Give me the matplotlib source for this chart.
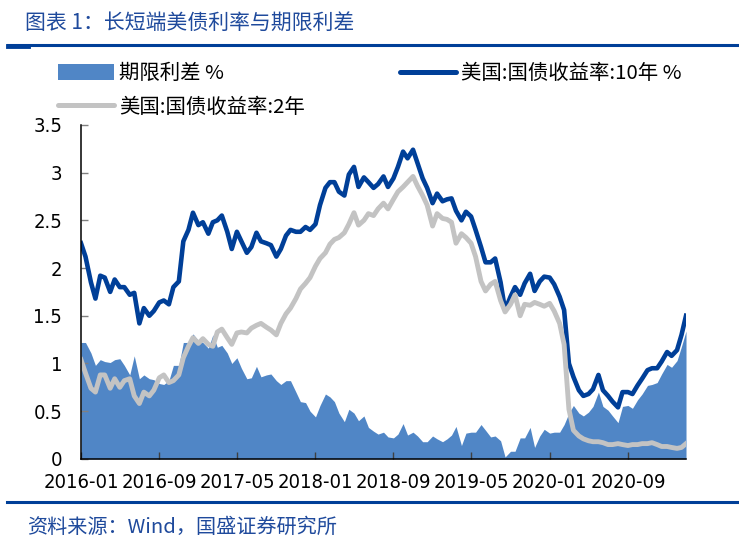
import matplotlib
matplotlib.use('Agg')
import matplotlib.pyplot as plt
import numpy as np
import pandas as pd
from matplotlib import font_manager
from matplotlib.font_manager import FontProperties
from matplotlib.lines import Line2D
from matplotlib.patches import Patch

# semi-monthly readings, 2016-01 .. 2021-03
dates = pd.date_range('2016-01-01', periods=125, freq='SMS')

y10 = [2.26, 2.12, 1.85, 1.68, 1.92, 1.90, 1.75, 1.88, 1.80, 1.80,
       1.72, 1.74, 1.42, 1.58, 1.50, 1.55, 1.64, 1.66, 1.62, 1.80,
       1.86, 2.28, 2.40, 2.58, 2.45, 2.48, 2.36, 2.48, 2.50, 2.55,
       2.38, 2.20, 2.38, 2.28, 2.16, 2.22, 2.37, 2.28, 2.26, 2.24,
       2.12, 2.20, 2.34, 2.40, 2.38, 2.38, 2.43, 2.40, 2.46, 2.66,
       2.84, 2.90, 2.90, 2.80, 2.76, 2.98, 3.06, 2.85, 2.95, 2.90,
       2.84, 2.88, 2.96, 2.85, 2.94, 3.06, 3.22, 3.15, 3.24, 3.10,
       2.94, 2.84, 2.68, 2.78, 2.70, 2.72, 2.73, 2.60, 2.50, 2.59,
       2.54, 2.40, 2.22, 2.06, 2.06, 2.10, 1.85, 1.56, 1.70, 1.80,
       1.72, 1.84, 1.94, 1.76, 1.86, 1.91, 1.90, 1.83, 1.70, 1.56,
       1.00, 0.86, 0.72, 0.66, 0.68, 0.73, 0.88, 0.72, 0.66, 0.60,
       0.54, 0.70, 0.70, 0.68, 0.77, 0.84, 0.93, 0.95, 0.95, 1.02,
       1.12, 1.08, 1.14, 1.30, 1.50]

y2 = [1.04, 0.90, 0.74, 0.70, 0.88, 0.88, 0.74, 0.84, 0.75, 0.82,
      0.84, 0.66, 0.58, 0.70, 0.66, 0.72, 0.85, 0.88, 0.80, 0.82,
      0.88, 1.06, 1.18, 1.27, 1.21, 1.26, 1.20, 1.18, 1.33, 1.36,
      1.27, 1.20, 1.32, 1.33, 1.32, 1.37, 1.40, 1.42, 1.38, 1.35,
      1.30, 1.42, 1.52, 1.58, 1.68, 1.78, 1.84, 1.90, 2.02, 2.10,
      2.16, 2.25, 2.30, 2.32, 2.37, 2.46, 2.58, 2.45, 2.50, 2.57,
      2.55, 2.62, 2.68, 2.62, 2.72, 2.80, 2.85, 2.90, 2.96, 2.86,
      2.76, 2.66, 2.44, 2.57, 2.52, 2.51, 2.48, 2.26, 2.36, 2.32,
      2.26, 2.12, 1.86, 1.76, 1.83, 1.86, 1.66, 1.54, 1.62, 1.72,
      1.50, 1.62, 1.61, 1.64, 1.62, 1.60, 1.63, 1.55, 1.42, 1.20,
      0.52, 0.30, 0.24, 0.21, 0.19, 0.18, 0.18, 0.17, 0.15, 0.15,
      0.16, 0.15, 0.14, 0.15, 0.15, 0.16, 0.16, 0.17, 0.15, 0.13,
      0.13, 0.12, 0.11, 0.12, 0.16]

spread = np.array(y10) - np.array(y2)

tick_labels = ['2016-01', '2016-09', '2017-05', '2018-01',
               '2018-09', '2019-05', '2020-01', '2020-09']
y_ticks = [0, 0.5, 1, 1.5, 2, 2.5, 3, 3.5]

lbl_spread = '期限利差 %'
lbl_10y = '美国:国债收益率:10年 %'
lbl_2y = '美国:国债收益率:2年'
title = '图表 1：长短端美债利率与期限利差'
source = '资料来源：Wind，国盛证券研究所'

c_fill = '#5086C6'
c_10y = '#003F98'
c_2y = '#C3C3C3'
c_text_blue = '#1F4A9C'

cjk = ['Noto Sans CJK SC', 'DejaVu Sans']


def narrow_font():
    # look for a condensed sans for the tick numbers
    cands = []
    for f in font_manager.fontManager.ttflist:
        if f.style != 'normal' or f.weight not in (400, 'normal', 'regular'):
            continue
        low = (f.name + ' ' + f.fname).lower()
        if 'mono' in low or 'serif' in low.replace('sans', ''):
            continue
        if 'narrow' in low or 'condensed' in low or f.stretch in ('condensed', 'semi-condensed'):
            if 'extra' in low or 'ultra' in low or 'semi' in low:
                continue
            rank = 0 if 'liberation' in low else 1 if 'dejavu' in low else 2
            cands.append((rank, f.fname))
    if cands:
        return sorted(cands)[0][1]
    return None


nf = narrow_font()
if nf:
    tick_fp = FontProperties(fname=nf, size=14.5)
else:
    tick_fp = FontProperties(family='DejaVu Sans', size=13)

fig = plt.figure(figsize=(7.39, 5.45), dpi=100)
ax = fig.add_axes([0.1096, 0.158, 0.8187, 0.6128])

ax.fill_between(dates, 0, spread, color=c_fill, lw=0)
ax.plot(dates, y10, color=c_10y, lw=3.3)
ax.plot(dates, y2, color=c_2y, lw=3.5)

ax.set_xlim(dates[0], dates[-1])
ax.set_ylim(0, 3.5)
ax.set_xticks(pd.to_datetime(tick_labels))
ax.set_xticklabels(tick_labels)
ax.set_yticks(y_ticks)
ax.set_yticklabels(['%g' % v for v in y_ticks])

for s in ['top', 'right']:
    ax.spines[s].set_visible(False)
for s in ['left', 'bottom']:
    ax.spines[s].set_linewidth(1.1)
    ax.spines[s].set_color('black')
ax.tick_params(axis='y', direction='in', length=5, width=1, color='#808080', pad=13.5)
ax.tick_params(axis='x', direction='in', length=5, width=1, color='#404040', pad=10)
for t in ax.get_xticklabels() + ax.get_yticklabels():
    t.set_fontproperties(tick_fp)
    t.set_color('black')

# legends
h_spread = Patch(facecolor=c_fill, edgecolor='none')
h_2y = Line2D([], [], color=c_2y, lw=3.6, solid_capstyle='round')
h_10y = Line2D([], [], color=c_10y, lw=3.6, solid_capstyle='round')
leg_kw = dict(frameon=False, borderpad=0, borderaxespad=0, handlelength=2.75,
              handleheight=0.8, handletextpad=0.25, labelspacing=0.6,
              prop={'family': cjk, 'size': 14.7}, bbox_transform=fig.transFigure)
leg1 = ax.legend([h_spread, h_2y], [lbl_spread, lbl_2y], loc='upper left',
                 bbox_to_anchor=(0.0785, 0.884), **leg_kw)
ax.add_artist(leg1)
ax.legend([h_10y], [lbl_10y], loc='upper left',
          bbox_to_anchor=(0.541, 0.884), **leg_kw)

# title, rules and source
fig.text(0.034, 0.958, title, fontsize=15, color=c_text_blue, style='italic',
         family=cjk, va='center', ha='left')
fig.add_artist(Line2D([0.011, 1.0], [0.9174, 0.9174], color=c_10y, lw=2.2))
fig.add_artist(Line2D([0.011, 0.038], [0.9155, 0.9155], color=c_10y, lw=3.5))
fig.add_artist(Line2D([0.009, 1.0], [0.078, 0.078], color=c_10y, lw=2.2))
fig.text(0.036, 0.033, source, fontsize=14.5, color=c_text_blue, style='italic',
         family=cjk, va='center', ha='left')

fig.savefig('out.png', dpi=100)
